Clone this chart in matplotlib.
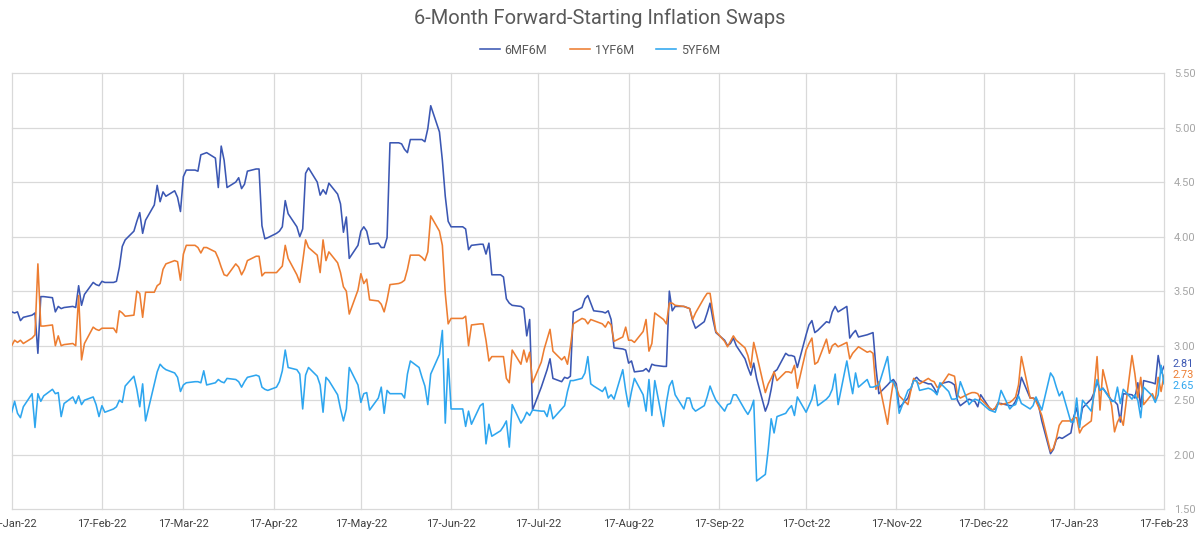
import matplotlib
matplotlib.use('Agg')
import matplotlib.pyplot as plt
import matplotlib.dates as mdates
import pandas as pd

plt.rcParams['font.family'] = ['Roboto', 'DejaVu Sans']

title = '6-Month Forward-Starting Inflation Swaps'
series_names = ['6MF6M', '1YF6M', '5YF6M']
start_date = '2022-01-17'
end_date = '2023-02-17'

mf6m = [
    3.31, 3.30, 3.31, 3.23, 3.26, 3.28, 3.30, 2.93, 3.45, 3.45, 3.44, 3.31, 3.36, 3.34, 3.35, 3.36, 3.35, 3.55, 3.37, 3.47, 3.58,
    3.56, 3.55, 3.59, 3.58, 3.58, 3.59, 3.72, 3.91, 3.97, 4.05, 4.14, 4.22, 4.03, 4.15, 4.29, 4.47, 4.32, 4.41, 4.37, 4.42, 4.36, 4.23, 4.55, 4.61,
    4.61, 4.60, 4.75, 4.76, 4.77, 4.72, 4.45, 4.83, 4.70, 4.45, 4.50, 4.54, 4.44, 4.48, 4.60, 4.62, 4.62, 4.10, 3.98, 3.99, 4.03, 4.05, 4.09,
    4.33, 4.21, 4.09, 4.00, 4.07, 4.58, 4.63, 4.50, 4.38, 4.43, 4.39, 4.49, 4.39, 4.30, 4.04, 4.18, 3.80, 3.92, 4.05, 4.09, 4.05, 3.93, 3.94, 3.90,
    3.90, 3.99, 4.86, 4.86, 4.85, 4.80, 4.77, 4.89, 4.89, 4.89, 4.87, 4.99, 5.20, 4.96, 4.70, 4.37, 4.14, 4.09, 4.09, 4.09, 4.07, 3.88, 3.92,
    3.93, 3.93, 3.84, 3.94, 3.65, 3.65, 3.63, 3.43, 3.39, 3.37, 3.36, 3.34, 3.09, 3.24, 2.41, 2.62, 2.70, 2.78, 2.88, 2.70, 2.67, 2.71, 2.70, 2.72,
    3.31, 3.35, 3.43, 3.46, 3.39, 3.32, 3.31, 3.30, 3.32, 3.24, 2.98, 2.97, 2.96, 2.84, 2.86, 2.76, 2.77, 2.79, 2.76, 2.83, 2.82, 2.81, 2.81,
    3.50, 3.32, 3.36, 3.36, 3.35, 3.34, 3.23, 3.16, 3.22, 3.30, 3.39, 3.24, 3.12, 3.05, 3.00, 3.02, 3.07, 3.00, 2.88, 2.80, 2.73, 2.84, 2.70, 2.40,
    2.47, 2.60, 2.76, 2.78, 2.93, 2.91, 2.91, 2.90, 2.80, 3.10, 3.19, 3.23, 3.12, 3.14, 3.22, 3.21, 3.31, 3.36, 3.31, 3.36, 3.07, 3.11, 3.14,
    3.08, 3.10, 3.11, 3.12, 2.80, 2.56, 2.64, 2.67, 2.69, 2.65, 2.43, 2.52, 2.60, 2.69, 2.71, 2.68, 2.65, 2.65, 2.61, 2.56, 2.65, 2.67, 2.66, 2.64,
    2.50, 2.45, 2.51, 2.50, 2.49, 2.44, 2.55, 2.43, 2.41, 2.42, 2.47, 2.47, 2.45, 2.45, 2.49, 2.56, 2.71, 2.52, 2.52, 2.51, 2.44, 2.31, 2.01,
    2.05, 2.14, 2.16, 2.15, 2.20, 2.35, 2.43, 2.28, 2.43, 2.51, 2.57, 2.67, 2.59, 2.61, 2.50, 2.49, 2.46, 2.30, 2.56, 2.55, 2.52, 2.66, 2.44, 2.68, 2.66, 2.65, 2.91, 2.75, 2.81,
]

yf6m = [
    3.00, 3.05, 3.03, 3.05, 3.02, 3.07, 3.10, 3.75, 3.18, 3.18, 3.19, 3.00, 3.09, 3.00, 3.01, 3.02, 3.00, 3.46, 2.87, 3.02, 3.17,
    3.15, 3.14, 3.16, 3.16, 3.16, 3.12, 3.32, 3.30, 3.27, 3.28, 3.50, 3.48, 3.26, 3.49, 3.49, 3.55, 3.57, 3.70, 3.75, 3.78, 3.77, 3.60, 3.84, 3.92,
    3.92, 3.90, 3.85, 3.90, 3.90, 3.86, 3.80, 3.72, 3.65, 3.64, 3.75, 3.72, 3.65, 3.70, 3.78, 3.82, 3.82, 3.64, 3.67, 3.67, 3.67, 3.70, 3.73,
    3.92, 3.80, 3.65, 3.58, 3.77, 3.97, 3.90, 3.83, 3.67, 3.97, 3.78, 3.86, 3.76, 3.67, 3.54, 3.50, 3.29, 3.51, 3.66, 3.57, 3.61, 3.42, 3.41, 3.38,
    3.31, 3.42, 3.56, 3.57, 3.58, 3.60, 3.70, 3.83, 3.83, 3.81, 3.78, 3.86, 4.19, 4.05, 3.92, 3.48, 3.20, 3.25, 3.25, 3.25, 3.27, 3.00, 3.19,
    3.20, 3.20, 3.05, 2.86, 2.90, 2.90, 2.90, 2.70, 2.66, 2.96, 2.83, 2.96, 2.85, 2.94, 2.66, 2.85, 2.97, 3.06, 3.15, 2.95, 2.87, 2.90, 2.83, 2.99,
    3.20, 3.25, 3.24, 3.20, 3.24, 3.23, 3.20, 3.17, 3.22, 3.19, 3.04, 3.08, 3.17, 3.05, 3.05, 3.03, 3.13, 3.24, 2.95, 3.02, 3.30, 3.24, 3.20,
    3.39, 3.39, 3.37, 3.36, 3.35, 3.34, 3.24, 3.30, 3.44, 3.48, 3.48, 3.30, 3.13, 3.04, 2.99, 3.04, 3.09, 3.05, 2.98, 2.91, 2.80, 3.03, 2.92, 2.57,
    2.65, 2.70, 2.76, 2.68, 2.76, 2.76, 2.75, 2.82, 2.61, 2.96, 3.02, 3.07, 2.83, 2.85, 3.06, 2.93, 3.00, 3.02, 2.99, 3.03, 2.88, 2.93, 2.96,
    2.99, 2.94, 2.95, 2.93, 2.60, 2.67, 2.28, 2.50, 2.67, 2.62, 2.54, 2.46, 2.59, 2.70, 2.67, 2.65, 2.70, 2.68, 2.67, 2.62, 2.62, 2.74, 2.73, 2.72,
    2.55, 2.52, 2.56, 2.57, 2.57, 2.56, 2.51, 2.43, 2.41, 2.43, 2.48, 2.46, 2.48, 2.50, 2.53, 2.64, 2.90, 2.52, 2.52, 2.49, 2.43, 2.36, 2.03,
    2.06, 2.15, 2.27, 2.31, 2.31, 2.34, 2.34, 2.20, 2.25, 2.31, 2.61, 2.90, 2.41, 2.78, 2.45, 2.21, 2.30, 2.35, 2.27, 2.91, 2.74, 2.52, 2.71, 2.46, 2.56, 2.50, 2.71, 2.58, 2.73,
]

y5f6m = [
    2.39, 2.49, 2.38, 2.34, 2.44, 2.56, 2.25, 2.56, 2.49, 2.54, 2.60, 2.56, 2.57, 2.35, 2.47, 2.53, 2.47, 2.54, 2.46, 2.50, 2.53,
    2.46, 2.35, 2.45, 2.39, 2.42, 2.44, 2.50, 2.48, 2.63, 2.72, 2.60, 2.44, 2.65, 2.31, 2.65, 2.76, 2.83, 2.80, 2.78, 2.75, 2.71, 2.58, 2.64, 2.66,
    2.67, 2.67, 2.66, 2.77, 2.64, 2.66, 2.69, 2.67, 2.66, 2.70, 2.69, 2.67, 2.62, 2.67, 2.71, 2.73, 2.72, 2.62, 2.60, 2.59, 2.62, 2.67, 2.77,
    2.96, 2.80, 2.78, 2.74, 2.42, 2.73, 2.80, 2.72, 2.64, 2.39, 2.71, 2.68, 2.55, 2.42, 2.31, 2.42, 2.80, 2.64, 2.48, 2.56, 2.57, 2.41, 2.52, 2.62,
    2.38, 2.59, 2.56, 2.56, 2.56, 2.52, 2.74, 2.86, 2.80, 2.71, 2.63, 2.46, 2.74, 2.92, 3.14, 2.29, 2.88, 2.42, 2.42, 2.42, 2.26, 2.40, 2.28,
    2.45, 2.47, 2.10, 2.28, 2.17, 2.22, 2.26, 2.31, 2.07, 2.46, 2.29, 2.33, 2.39, 2.36, 2.41, 2.40, 2.40, 2.35, 2.46, 2.33, 2.42, 2.45, 2.58, 2.68,
    2.68, 2.70, 2.75, 2.90, 2.65, 2.63, 2.58, 2.62, 2.52, 2.55, 2.51, 2.78, 2.59, 2.44, 2.58, 2.70, 2.55, 2.40, 2.69, 2.36, 2.68, 2.26, 2.48,
    2.63, 2.68, 2.55, 2.42, 2.52, 2.52, 2.43, 2.40, 2.45, 2.53, 2.63, 2.56, 2.50, 2.40, 2.46, 2.47, 2.55, 2.55, 2.41, 2.37, 2.42, 2.50, 1.76, 1.82,
    2.05, 2.33, 2.20, 2.35, 2.38, 2.42, 2.45, 2.36, 2.53, 2.39, 2.45, 2.51, 2.64, 2.45, 2.51, 2.54, 2.60, 2.74, 2.46, 2.86, 2.70, 2.56, 2.75,
    2.62, 2.69, 2.62, 2.62, 2.63, 2.64, 2.90, 2.67, 2.67, 2.60, 2.38, 2.59, 2.61, 2.68, 2.68, 2.59, 2.61, 2.60, 2.58, 2.55, 2.66, 2.58, 2.51, 2.51,
    2.52, 2.67, 2.46, 2.49, 2.51, 2.50, 2.48, 2.41, 2.40, 2.39, 2.47, 2.59, 2.42, 2.45, 2.46, 2.54, 2.47, 2.42, 2.45, 2.53, 2.47, 2.41, 2.75,
    2.71, 2.62, 2.54, 2.58, 2.30, 2.30, 2.52, 2.25, 2.50, 2.40, 2.56, 2.69, 2.59, 2.61, 2.49, 2.49, 2.62, 2.47, 2.60, 2.51, 2.55, 2.50, 2.34, 2.62, 2.54, 2.48, 2.55, 2.82, 2.65,
]

y_ticks = [1.50, 2.00, 2.50, 3.00, 3.50, 4.00, 4.50, 5.00, 5.50]

dates = pd.bdate_range(start_date, end_date)
n = min(len(dates), len(mf6m), len(yf6m), len(y5f6m))
dates = dates[:n]
values = [mf6m[:n], yf6m[:n], y5f6m[:n]]
colors = ['#3B57B3', '#ED7D31', '#2EA6EF']

W, H = 1200, 534
fig = plt.figure(figsize=(W / 100, H / 100), dpi=100)
left, right, top, bottom = 11.7, 1164.0, 73.0, 509.3
ax = fig.add_axes([left / W, 1 - bottom / H, (right - left) / W, (bottom - top) / H])

for name, vals, c in zip(series_names, values, colors):
    ax.plot(dates, vals, color=c, lw=1.15, label=name, zorder=3)

ax.set_xlim(pd.Timestamp(start_date), pd.Timestamp(end_date))
ax.set_ylim(1.5, 5.5)
ax.set_yticks(y_ticks)
ax.yaxis.set_major_formatter(matplotlib.ticker.FormatStrFormatter('%.2f'))
xt = [pd.Timestamp(start_date) + pd.DateOffset(months=i) for i in range(14)]
ax.set_xticks(xt)
ax.xaxis.set_major_formatter(mdates.DateFormatter('%d-%b-%y'))

ax.yaxis.tick_right()
ax.tick_params(axis='y', length=0, pad=7, labelsize=8, labelcolor='#A6A6A6')
ax.tick_params(axis='x', length=0, pad=7, labelsize=8, labelcolor='#404040')
ax.grid(True, color='#D9D9D9', lw=0.9, zorder=0)
for s in ax.spines.values():
    s.set_visible(False)
for gl in ax.get_xgridlines() + ax.get_ygridlines():
    gl.set_clip_on(False)

# end-of-series value labels (small nudges keep them legible, as in the reference)
nudges = [1.5, 0, -1.5]
for vals, c, dy in zip(values, colors, nudges):
    v = vals[-1]
    ax.annotate(f'{v:.2f}', xy=(dates[-1], v), xytext=(6, dy), textcoords='offset points',
                color=c, fontsize=7.8, va='center', ha='left', annotation_clip=False)

fig.text(0.5, 1 - 18 / H, title, ha='center', va='center', fontsize=14.5, color='#595959')
fig.legend(*ax.get_legend_handles_labels(), loc='center', bbox_to_anchor=(0.5, 1 - 50 / H), ncol=3,
           frameon=False, fontsize=9, handlelength=1.6, columnspacing=1.8, handletextpad=0.4,
           labelcolor='#595959')

fig.savefig('out.png', dpi=100)
